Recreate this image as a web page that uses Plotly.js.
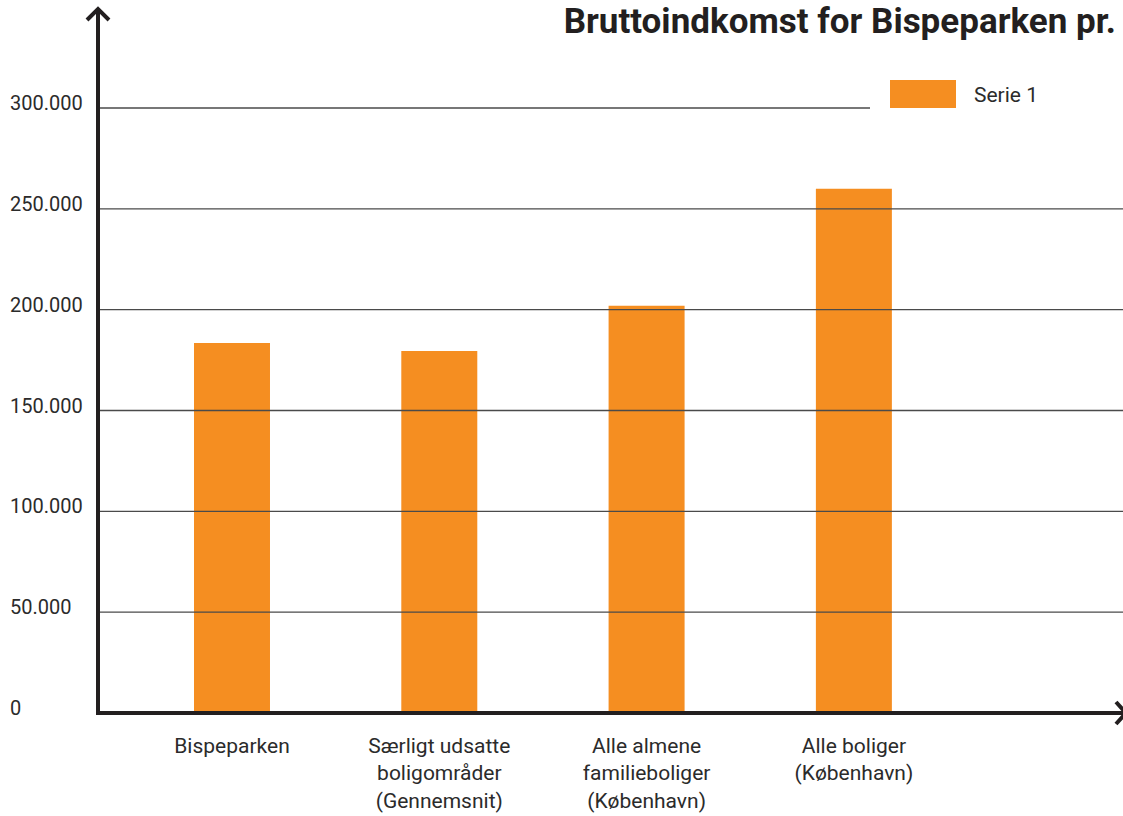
<!DOCTYPE html>
<html>
<head>
<meta charset="utf-8">
<script src="https://cdn.plot.ly/plotly-3.0.1.min.js"></script>
<style>html,body{margin:0;padding:0;background:#fff}#chart{width:1123px;height:816px}</style>
</head>
<body>
<div id="chart"></div>
<script>
// ---- data ----
const categories = [
  "Bispeparken",
  "Særligt udsatte<br>boligområder<br>(Gennemsnit)",
  "Alle almene<br>familieboliger<br>(København)",
  "Alle boliger<br>(København)"
];
const seriesName = "Serie 1";
const values = [183500, 179500, 202000, 260000];
const yTickValues = [0, 50000, 100000, 150000, 200000, 250000, 300000];
const yTickLabels = ["0", "50.000", "100.000", "150.000", "200.000", "250.000", "300.000"];
const chartTitle = "Bruttoindkomst for Bispeparken pr.";

// ---- layout helpers (pixel -> paper) ----
const W = 1123, H = 816;
const mL = 98, mR = 0, mT = 12, mB = 103;
const pw = W - mL - mR, ph = H - mT - mB;
const px = x => (x - mL) / pw;
const py = y => (H - mB - y) / ph;
const ORANGE = "#F58E21";
const FONT = "Roboto, 'Open Sans', sans-serif";
const TXT = "#2b2b2b";

const xIdx = categories.map((_, i) => i);

const trace = {
  type: "bar",
  name: seriesName,
  x: xIdx,
  y: values,
  width: 0.3666,
  marker: {color: ORANGE},
  hoverinfo: "skip",
  showlegend: false
};

const shapes = [];
// gridlines above bars
yTickValues.forEach(v => {
  if (v === 0) return;
  shapes.push({
    type: "line", xref: "paper", yref: "y",
    x0: px(100), x1: v === 300000 ? px(870) : 1,
    y0: v, y1: v,
    line: {color: "#4a4a4a", width: 1.3},
    layer: "above"
  });
});
// y axis with arrow
shapes.push({type: "line", xref: "paper", yref: "paper", x0: px(98), x1: px(98), y0: py(715), y1: py(9),
  line: {color: "#231f20", width: 4}, layer: "above"});
shapes.push({type: "path", xref: "paper", yref: "paper",
  path: `M${px(87)},${py(20)} L${px(98)},${py(9)} L${px(109)},${py(20)}`,
  line: {color: "#231f20", width: 4}, layer: "above"});
// x axis with arrow
shapes.push({type: "line", xref: "paper", yref: "paper", x0: px(96), x1: px(1124), y0: py(713), y1: py(713),
  line: {color: "#231f20", width: 4}, layer: "above"});
shapes.push({type: "path", xref: "paper", yref: "paper",
  path: `M${px(1116)},${py(702)} L${px(1126)},${py(713)} L${px(1116)},${py(724)}`,
  line: {color: "#231f20", width: 4}, layer: "above"});
// legend swatch
shapes.push({type: "rect", xref: "paper", yref: "paper",
  x0: px(890), x1: px(956), y0: py(108), y1: py(80),
  fillcolor: ORANGE, line: {width: 0}, layer: "above"});

const annotations = [];
yTickValues.forEach((v, i) => {
  annotations.push({
    xref: "paper", yref: "y", x: px(8), y: v, xanchor: "left", yanchor: "middle",
    yshift: 5, text: yTickLabels[i], showarrow: false,
    font: {family: FONT, size: 20, color: TXT}
  });
});
annotations.push({
  xref: "paper", yref: "paper", x: px(972), y: py(95), xanchor: "left", yanchor: "middle",
  text: seriesName, showarrow: false, font: {family: FONT, size: 21, color: TXT}
});

const layout = {
  width: W, height: H,
  margin: {l: mL, r: mR, t: mT, b: mB, pad: 0},
  paper_bgcolor: "#ffffff", plot_bgcolor: "#ffffff",
  title: {
    text: "<b>" + chartTitle + "</b>",
    xref: "paper", x: px(1116), xanchor: "right",
    yref: "container", y: 1 - 21 / H, yanchor: "middle",
    font: {family: FONT, size: 35, color: "#231f20"}
  },
  showlegend: false,
  xaxis: {
    range: [-0.6464, 4.2982],
    tickmode: "array", tickvals: xIdx, ticktext: categories,
    showgrid: false, zeroline: false, showline: false, ticks: "",
    ticklabelstandoff: 18,
    tickfont: {family: FONT, size: 21, color: TXT},
    fixedrange: true
  },
  yaxis: {
    range: [0, 347603],
    showgrid: false, zeroline: false, showline: false, showticklabels: false, ticks: "",
    fixedrange: true
  },
  shapes: shapes,
  annotations: annotations
};

Plotly.newPlot("chart", [trace], layout, {displayModeBar: false, staticPlot: true});
</script>
</body>
</html>
